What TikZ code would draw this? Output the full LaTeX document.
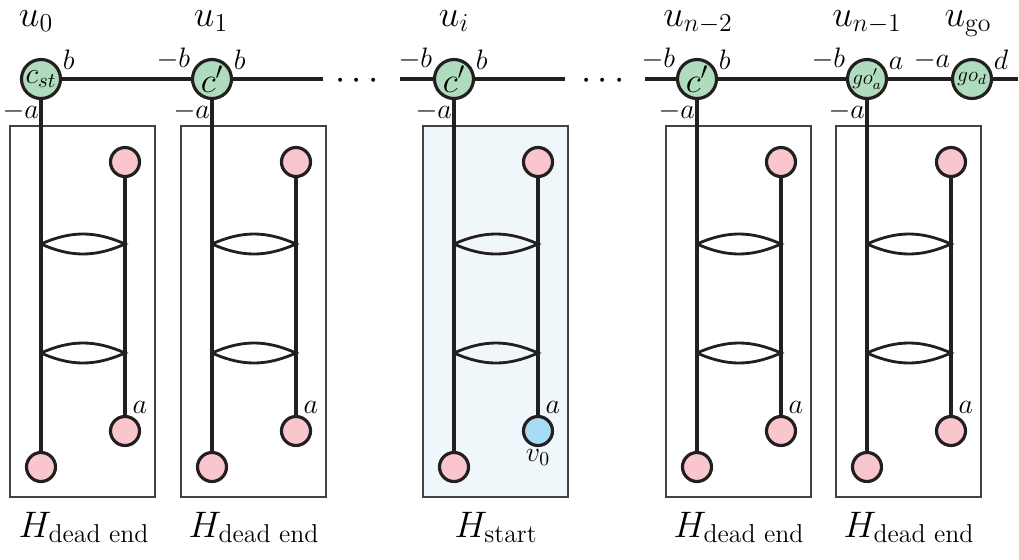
\RequirePackage{fix-cm}
\documentclass[tikz,border=0pt]{standalone}
\usepackage{amsmath}
\usepackage{tikz}
\usetikzlibrary{positioning}

\definecolor{vgreen}{HTML}{B0DCBE}
\definecolor{ppink}{HTML}{F8C6CC}
\definecolor{pblue}{HTML}{A8DCF6}
\definecolor{startbg}{HTML}{EFF7FB}
\definecolor{ink}{HTML}{231F20}

\tikzset{
    wire/.style={line width=1.8pt, ink},
    lens/.style={line width=1.6pt, ink},
    vnode/.style={circle, draw=ink, line width=1.8pt, fill=vgreen, minimum size=0.78cm, inner sep=0pt, font=\fontsize{20}{22}\selectfont},
    port/.style={circle, draw=ink, line width=1.8pt, fill=ppink, minimum size=0.58cm, inner sep=0pt},
    frame/.style={draw=ink!85, line width=0.9pt},
    lbl/.style={inner sep=1pt, font=\fontsize{16}{18}\selectfont},
    big/.style={inner sep=0pt, font=\fontsize{21}{24}\selectfont},
}

\begin{document}
\begin{tikzpicture}[x=0.02cm,y=-0.02cm]
    \useasboundingbox (0,0) rectangle (1019,559);

    % top row of vertices
    \node[vnode,font=\fontsize{17}{18}\selectfont,label={[lbl,anchor=south west]20:$b$},label={[lbl,anchor=north east]south:$-a$}] (v0) at (41,79) {$c_{st}$};
    \node[vnode,label={[lbl,anchor=south east]160:$-b$},label={[lbl,anchor=south west]20:$b$},label={[lbl,anchor=north east]south:$-a$}] (v1) at (212,79) {$c'$};
    \node[vnode,label={[lbl,anchor=south east]160:$-b$},label={[lbl,anchor=south west]20:$b$},label={[lbl,anchor=north east]south:$-a$}] (vi) at (454,79) {$c'$};
    \node[vnode,label={[lbl,anchor=south east]160:$-b$},label={[lbl,anchor=south west]20:$b$},label={[lbl,anchor=north east]south:$-a$}] (vm) at (697,79) {$c'$};
    \node[vnode,font=\fontsize{12}{13}\selectfont,label={[lbl,anchor=south east]160:$-b$},label={[lbl,anchor=south west]20:$a$},label={[lbl,anchor=north east]south:$-a$}] (vn) at (867,79) {$go'_a$};
    \node[vnode,font=\fontsize{12}{13}\selectfont,label={[lbl,anchor=south east]160:$-a$},label={[lbl,anchor=south west]20:$d$}] (vgo) at (972,79) {$go_d$};

    \node[big,anchor=base] (u0) at (36,26) {$u_0$};
    \node[big,anchor=base] (u1) at (211,26) {$u_1$};
    \node[big,anchor=base] (ui) at (454,26) {$u_i$};
    \node[big,anchor=base] (um) at (698,26) {$u_{n-2}$};
    \node[big,anchor=base] (un) at (867,26) {$u_{n-1}$};
    \node[big,anchor=base] (ugo) at (968,26) {$u_{\text{go}}$};

    \node[big] (dots1) at (360,81) {$\cdots$};
    \node[big] (dots2) at (606,81) {$\cdots$};

    \coordinate (e1) at (323,79);
    \coordinate (s2) at (400,79);
    \coordinate (e2) at (565,79);
    \coordinate (s3) at (645,79);
    \coordinate (e3) at (1018,79);
    \draw[wire] (v0) -- (v1) -- (e1);
    \draw[wire] (s2) -- (vi) -- (e2);
    \draw[wire] (s3) -- (vm) -- (vn) -- (vgo) -- (e3);

    % gadgets
    \fill[startbg] (423,126) rectangle (568,497);
    \foreach \gx/\gid/\col in {41/0/ppink,212/1/ppink,454/i/pblue,697/m/ppink,867/n/ppink}{
        \draw[frame] (\gx-31,126) rectangle (\gx+114,497);
        \node[port] (tr\gid) at (\gx+84,162) {};
        \node[port,fill=\col,label={[lbl,anchor=south west]70:$a$}] (br\gid) at (\gx+84,431) {};
        \node[port] (bl\gid) at (\gx,467) {};
        \draw[wire] (v\gid) -- (bl\gid);
        \draw[wire] (tr\gid) -- (br\gid);
        \foreach \ly in {244,353}
            \draw[lens] (\gx,\ly) to[bend left=24] (\gx+84,\ly) to[bend left=24] (\gx,\ly);
    }
    \node[lbl,below=0pt of bri] (v0lbl) {$v_0$};

    \node[big,anchor=base] (h0) at (84,537) {$H_{\text{dead end}}$};
    \node[big,anchor=base] (h1) at (254,537) {$H_{\text{dead end}}$};
    \node[big,anchor=base] (hi) at (496,537) {$H_{\text{start}}$};
    \node[big,anchor=base] (hm) at (739,537) {$H_{\text{dead end}}$};
    \node[big,anchor=base] (hn) at (909,537) {$H_{\text{dead end}}$};
\end{tikzpicture}
\end{document}
